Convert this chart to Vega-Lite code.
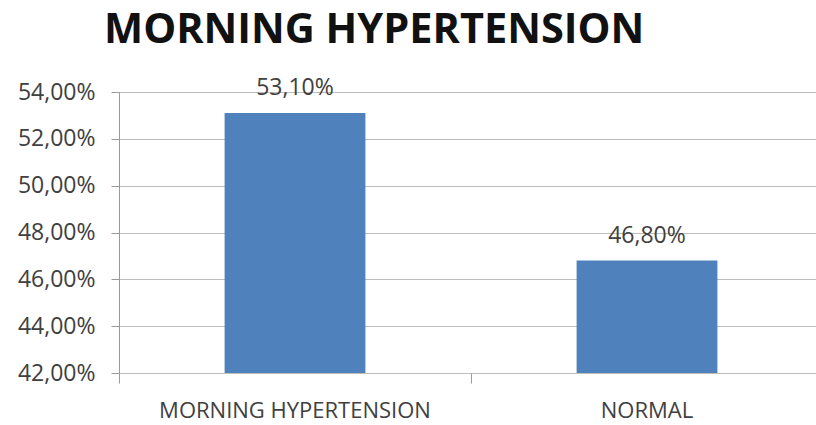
{
  "$schema": "https://vega.github.io/schema/vega-lite/v6.json",
  "autosize": {"type": "fit", "contains": "padding"},
  "padding": {"left": 17, "top": 13, "right": 0, "bottom": 4},
  "width": 816,
  "height": 425,
  "background": "white",
  "config": {
    "view": {"stroke": null},
    "locale": {"number": {"decimal": ",", "thousands": ".", "grouping": [3], "currency": ["", "€"]}},
    "font": "Open Sans"
  },
  "title": {
    "text": "MORNING HYPERTENSION",
    "anchor": "start",
    "frame": "group",
    "font": "Open Sans",
    "fontSize": 41.5,
    "fontWeight": "bold",
    "color": "#111111",
    "dx": -15,
    "offset": 26
  },
  "data": {
    "values": [
      {"category": "MORNING HYPERTENSION", "value": 0.531},
      {"category": "NORMAL", "value": 0.468}
    ]
  },
  "resolve": {"axis": {"x": "independent"}},
  "layer": [
    {
      "mark": {"type": "bar", "color": "#4F81BD"},
      "encoding": {
        "x": {
          "field": "category",
          "type": "nominal",
          "sort": null,
          "scale": {"range": [0, 704], "paddingInner": 0.6, "paddingOuter": 0.3},
          "axis": {
            "title": null,
            "orient": "bottom",
            "labelAngle": 0,
            "ticks": false,
            "tickSize": 0,
            "domain": false,
            "grid": false,
            "labelPadding": 27,
            "labelLimit": 0,
            "labelFont": "Open Sans",
            "labelFontSize": 22,
            "labelColor": "#404040",
            "labelBaseline": "top"
          }
        },
        "y": {
          "field": "value",
          "type": "quantitative",
          "scale": {"domain": [0.42, 0.54], "zero": false, "nice": false},
          "axis": {
            "title": null,
            "format": ".2%",
            "values": [0.42, 0.44, 0.46, 0.48, 0.5, 0.52, 0.54],
            "labelFont": "Open Sans",
            "labelFontSize": 23,
            "labelColor": "#404040",
            "labelPadding": 16,
            "tickSize": 8,
            "tickColor": "#9a9a9a",
            "domainColor": "#9a9a9a",
            "gridColor": "#bdbdbd",
            "grid": true
          }
        },
        "y2": {"datum": 0.42}
      }
    },
    {
      "mark": {"type": "text", "baseline": "alphabetic", "dy": -18, "font": "Open Sans", "fontSize": 23, "color": "#404040"},
      "encoding": {
        "x": {
          "field": "category",
          "type": "nominal",
          "sort": null,
          "axis": {
            "title": null,
            "orient": "bottom",
            "labels": false,
            "domain": false,
            "grid": false,
            "ticks": true,
            "tickSize": 10,
            "tickColor": "#9a9a9a",
            "bandPosition": -0.743
          }
        },
        "y": {"field": "value", "type": "quantitative"},
        "text": {"field": "value", "type": "quantitative", "format": ".2%"}
      }
    }
  ]
}
